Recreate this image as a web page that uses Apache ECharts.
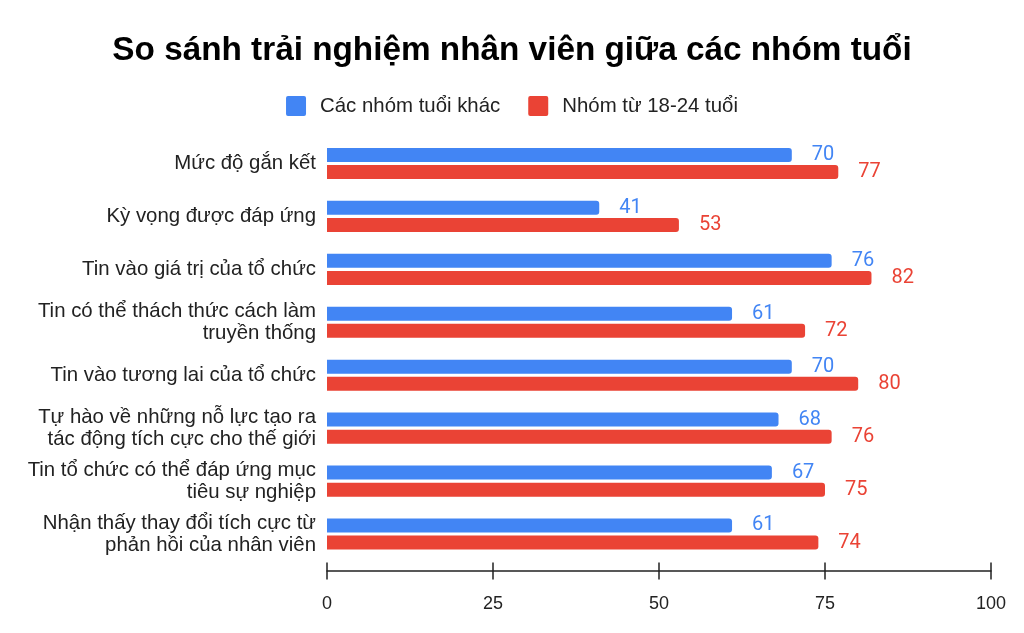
<!DOCTYPE html>
<html>
<head>
<meta charset="utf-8">
<script src="https://cdn.jsdelivr.net/npm/echarts@6/dist/echarts.min.js"></script>
<style>html,body{margin:0;padding:0;background:#fff;}#c{width:1024px;height:633px;}</style>
</head>
<body>
<div id="c"></div>
<script>
const titleText = "So sánh trải nghiệm nhân viên giữa các nhóm tuổi";
const categories = [
  "Mức độ gắn kết",
  "Kỳ vọng được đáp ứng",
  "Tin vào giá trị của tổ chức",
  "Tin có thể thách thức cách làm truyền thống",
  "Tin vào tương lai của tổ chức",
  "Tự hào về những nỗ lực tạo ra tác động tích cực cho thế giới",
  "Tin tổ chức có thể đáp ứng mục tiêu sự nghiệp",
  "Nhận thấy thay đổi tích cực từ phản hồi của nhân viên"
];
const seriesNames = ["Các nhóm tuổi khác", "Nhóm từ 18-24 tuổi"];
const otherAges = [70, 41, 76, 61, 70, 68, 67, 61];
const youngAges = [77, 53, 82, 72, 80, 76, 75, 74];
const xTicks = [0, 25, 50, 75, 100];

const blue = "#4285F4", red = "#EA4335";
const labelFont = '20.4px "Liberation Sans", Arial';
const mctx = document.createElement('canvas').getContext('2d');
mctx.font = labelFont;
function wrap(text, maxW) {
  const words = text.split(' ');
  const lines = [];
  let cur = '';
  for (const w of words) {
    const t = cur ? cur + ' ' + w : w;
    if (cur && mctx.measureText(t).width > maxW) { lines.push(cur); cur = w; }
    else cur = t;
  }
  if (cur) lines.push(cur);
  return lines.join('\n');
}

const chart = echarts.init(document.getElementById('c'), null, {renderer: 'canvas'});
function barSeries(name, data, color) {
  return {
    name: name, type: 'bar', data: data, barWidth: 14, barGap: '22%',
    itemStyle: {color: color, borderRadius: [0, 3, 3, 0]},
    label: {show: true, position: 'right', distance: 20, color: color,
      fontFamily: 'Roboto', fontSize: 20},
    animation: false
  };
}
chart.setOption({
  animation: false,
  title: {text: titleText, left: 'center', top: 29,
    textStyle: {fontFamily: 'Liberation Sans, Arial', fontWeight: 'bold', fontSize: 33.3, color: '#000'}},
  legend: {top: 91, left: 'center', itemWidth: 20, itemHeight: 20, itemGap: 28,
    icon: 'path://M2,0H18A2,2 0 0 1 20,2V18A2,2 0 0 1 18,20H2A2,2 0 0 1 0,18V2A2,2 0 0 1 2,0Z',
    textStyle: {fontFamily: 'Liberation Sans, Arial', fontSize: 20.4, color: '#222', padding: [0, 0, 0, 9]},
    data: seriesNames},
  grid: {left: 327, right: 33, top: 137, bottom: 72.5, containLabel: false},
  xAxis: [{
    type: 'value', min: xTicks[0], max: xTicks[xTicks.length - 1], interval: 25, offset: 10,
    axisLine: {show: true, lineStyle: {color: '#222', width: 1.5}},
    axisTick: {show: true, length: 9, lineStyle: {color: '#222', width: 1.5}},
    splitLine: {show: false},
    axisLabel: {margin: 25, fontFamily: 'Liberation Sans, Arial', fontSize: 18, color: '#222'}
  }, {
    type: 'value', position: 'bottom', min: xTicks[0], max: xTicks[xTicks.length - 1], interval: 25, offset: 10,
    axisLine: {show: false},
    axisTick: {show: true, inside: true, length: 8, lineStyle: {color: '#222', width: 1.5}},
    splitLine: {show: false}, axisLabel: {show: false}
  }],
  yAxis: {
    type: 'category', data: categories, inverse: true,
    axisLine: {show: false}, axisTick: {show: false},
    axisLabel: {margin: 11, fontFamily: 'Liberation Sans, Arial', fontSize: 20.4, color: '#222',
      lineHeight: 22, align: 'right', formatter: function (v) { return wrap(v, 300); }}
  },
  series: [barSeries(seriesNames[0], otherAges, blue), barSeries(seriesNames[1], youngAges, red)]
});
</script>
</body>
</html>
